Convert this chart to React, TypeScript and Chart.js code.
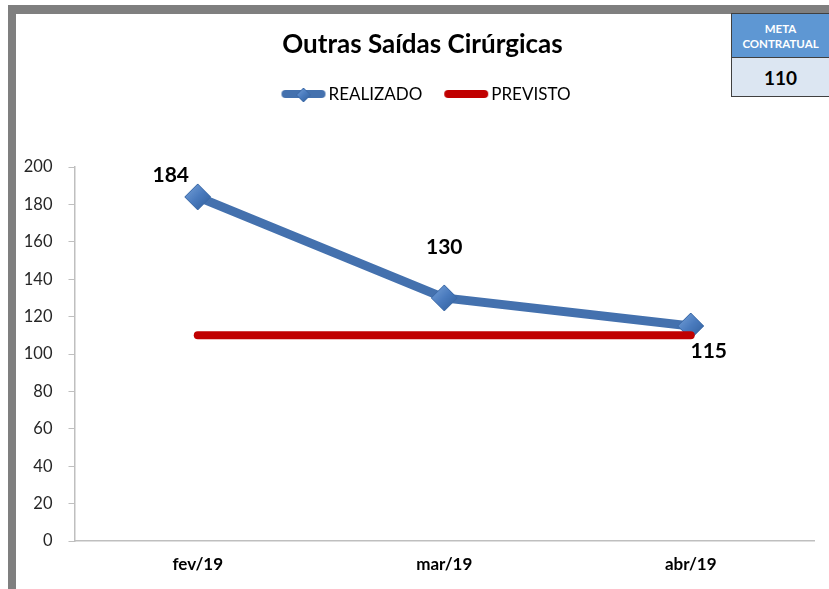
import React, { useEffect, useRef } from "react";
import { Chart, registerables } from "chart.js";

Chart.register(...registerables);

const categories = ["fev/19", "mar/19", "abr/19"];
const realizado = [184, 130, 115];
const previsto = [110, 110, 110];
const yTicksMax = 200;
const yTicksStep = 20;
const titleText = "Outras Saídas Cirúrgicas";
const legendLabels = ["REALIZADO", "PREVISTO"];
const metaLabel = ["META", "CONTRATUAL"];
const metaValue = "110";

const FONT = "Lato, 'Open Sans', sans-serif";
const BLUE = "#4471AE";
const RED = "#C00000";

function makeDiamond(size: number): HTMLCanvasElement {
  const c = document.createElement("canvas");
  c.width = size;
  c.height = size;
  const ctx = c.getContext("2d")!;
  const h = size / 2;
  const g = ctx.createLinearGradient(0, 0, size, size);
  g.addColorStop(0, "#7CA6DC");
  g.addColorStop(0.5, "#4A7BBE");
  g.addColorStop(1, "#2C5A96");
  ctx.beginPath();
  ctx.moveTo(h, 1);
  ctx.lineTo(size - 1, h);
  ctx.lineTo(h, size - 1);
  ctx.lineTo(1, h);
  ctx.closePath();
  ctx.fillStyle = g;
  ctx.fill();
  ctx.strokeStyle = "#3A68A6";
  ctx.lineWidth = 1;
  ctx.stroke();
  return c;
}

function makeLegendLine(color: string, withDiamond: boolean): HTMLCanvasElement {
  const c = document.createElement("canvas");
  c.width = 46;
  c.height = 18;
  const ctx = c.getContext("2d")!;
  ctx.strokeStyle = color;
  ctx.lineWidth = 8;
  ctx.lineCap = "round";
  ctx.beginPath();
  ctx.moveTo(5, 9);
  ctx.lineTo(41, 9);
  ctx.stroke();
  if (withDiamond) {
    const d = makeDiamond(16);
    ctx.drawImage(d, 15, 2);
  }
  return c;
}

const labelOffsets = [
  { dx: -27, dy: -22 },
  { dx: 0, dy: -51 },
  { dx: 18, dy: 25 },
];

export default function App() {
  const ref = useRef<HTMLCanvasElement | null>(null);

  useEffect(() => {
    if (!ref.current) return;
    const diamond = makeDiamond(28);
    const legendImgs = [makeLegendLine(BLUE, true), makeLegendLine(RED, false)];

    const labelsPlugin = {
      id: "dataLabelsCustom",
      afterDatasetsDraw(chart: any) {
        const meta = chart.getDatasetMeta(0);
        const ctx = chart.ctx;
        ctx.save();
        ctx.font = `bold 21px ${FONT}`;
        ctx.fillStyle = "#000";
        ctx.textAlign = "center";
        ctx.textBaseline = "middle";
        meta.data.forEach((pt: any, i: number) => {
          const o = labelOffsets[i];
          ctx.fillText(String(realizado[i]), pt.x + o.dx, pt.y + o.dy);
        });
        ctx.restore();
      },
    };

    const legendPlugin = {
      id: "customLegend",
      afterDraw(chart: any) {
        const ctx = chart.ctx;
        ctx.save();
        ctx.font = `17px ${FONT}`;
        ctx.fillStyle = "#000";
        ctx.textBaseline = "middle";
        ctx.textAlign = "left";
        const y = 80;
        const gap = 22;
        const widths = legendLabels.map((t) => 47 + ctx.measureText(t).width);
        const total = widths.reduce((a, b) => a + b, 0) + gap;
        let x = 410 - total / 2;
        legendLabels.forEach((t, i) => {
          const img = legendImgs[i];
          ctx.drawImage(img, x - 1, y - 9);
          ctx.fillText(t, x + 47, y + 1);
          x += widths[i] + gap;
        });
        ctx.restore();
      },
    };

    const chart = new Chart(ref.current, {
      type: "line",
      data: {
        labels: categories,
        datasets: [
          {
            label: legendLabels[0],
            data: realizado,
            borderColor: BLUE,
            backgroundColor: BLUE,
            borderWidth: 9,
            pointStyle: diamond as any,
            pointRadius: 13,
            pointHoverRadius: 13,
            tension: 0,
            order: 1,
          },
          {
            label: legendLabels[1],
            data: previsto,
            borderColor: RED,
            backgroundColor: RED,
            borderWidth: 8,
            borderCapStyle: "round",
            pointRadius: 0,
            pointHoverRadius: 0,
            tension: 0,
            order: 0,
          },
        ],
      },
      options: {
        responsive: false,
        animation: false,
        devicePixelRatio: 1,
        layout: { autoPadding: false, padding: { top: 0, left: 0, right: 0, bottom: 0 } },
        plugins: {
          legend: { display: false },
          tooltip: { enabled: false },
          title: {
            display: true,
            text: titleText,
            color: "#000",
            font: { family: FONT, size: 26, weight: "bold" },
            padding: { top: 15, bottom: 106.8 },
          },
        },
        scales: {
          x: {
            offset: true,
            grid: { display: false },
            border: { display: true, color: "#BFBFBF", width: 1.5 },
            ticks: {
              color: "#000",
              font: { family: FONT, size: 17, weight: "bold" },
              padding: 5,
            },
            afterFit(s: any) {
              s.height = 48;
              s.paddingLeft = 0;
              s.paddingRight = 0;
            },
          },
          y: {
            min: 0,
            max: yTicksMax,
            grid: {
              drawOnChartArea: false,
              drawTicks: true,
              tickLength: 6,
              color: "#BFBFBF",
            },
            border: { display: true, color: "#BFBFBF", width: 1.5 },
            ticks: {
              stepSize: yTicksStep,
              color: "#262626",
              font: { family: FONT, size: 16.5 },
              padding: 16,
            },
            afterFit(s: any) {
              s.width = 58.5;
            },
          },
          yRightSpace: {
            type: "linear",
            position: "right",
            display: true,
            grid: { display: false },
            border: { display: false },
            ticks: { display: false },
            afterFit(s: any) {
              s.width = 15;
            },
          },
        },
      },
      plugins: [labelsPlugin, legendPlugin],
    });
    return () => chart.destroy();
  }, []);

  return (
    <div
      style={{
        position: "absolute",
        left: 0,
        top: 0,
        width: 829,
        height: 589,
        overflow: "hidden",
        background: "#fff",
      }}
    >
      <div style={{ position: "absolute", left: 8, top: 5, width: 830, height: 9, background: "#7F7F7F" }} />
      <div style={{ position: "absolute", left: 8, top: 5, width: 8, height: 590, background: "#7F7F7F" }} />
      <canvas
        ref={ref}
        width={813}
        height={575}
        style={{ position: "absolute", left: 16, top: 14, width: 813, height: 575 }}
      />
      <div
        style={{
          position: "absolute",
          left: 731,
          top: 13,
          width: 110,
          height: 84,
          border: "1px solid #404040",
          boxSizing: "border-box",
          fontFamily: FONT,
        }}
      >
        <div
          style={{
            height: 44,
            background: "#5E97D3",
            color: "#fff",
            fontWeight: "bold",
            fontSize: 11.5,
            lineHeight: "15px",
            width: 97,
            display: "flex",
            flexDirection: "column",
            justifyContent: "center",
            alignItems: "center",
            borderBottom: "1px solid #404040",
            boxSizing: "border-box",
          }}
        >
          <div>{metaLabel[0]}</div>
          <div>{metaLabel[1]}</div>
        </div>
        <div
          style={{
            height: 38,
            background: "#DCE6F2",
            color: "#000",
            fontWeight: "bold",
            fontSize: 19,
            width: 97,
            display: "flex",
            justifyContent: "center",
            alignItems: "center",
          }}
        >
          {metaValue}
        </div>
      </div>
    </div>
  );
}
